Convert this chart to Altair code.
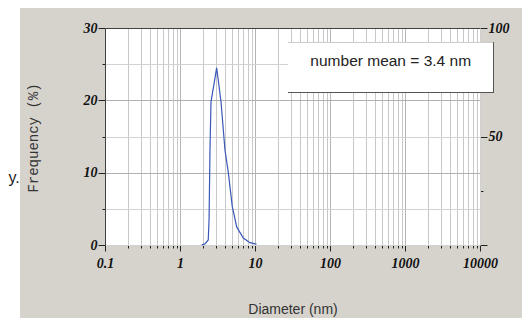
import altair as alt
import pandas as pd

# ---- data ----
diameter_nm = [1.94, 2.15, 2.38, 2.44, 2.51, 2.59, 2.80, 3.08, 3.30, 3.52,
               3.98, 4.41, 4.98, 5.70, 6.98, 8.58, 10.5]
frequency_pct = [0.0, 0.15, 0.7, 3.5, 13.0, 19.8, 21.9, 24.5, 22.1, 19.8,
                 13.1, 10.0, 5.3, 2.5, 0.97, 0.32, 0.1]

x_ticks = [0.1, 0.2, 0.3, 0.4, 0.5, 0.6, 0.7, 0.8, 0.9,
           1, 2, 3, 4, 5, 6, 7, 8, 9,
           10, 20, 30, 40, 50, 60, 70, 80, 90,
           100, 200, 300, 400, 500, 600, 700, 800, 900,
           1000, 2000, 3000, 4000, 5000, 6000, 7000, 8000, 9000, 10000]
x_labels = [0.1, 1, 10, 100, 1000, 10000]
y_ticks = [0, 5, 10, 15, 20, 25, 30]
y_labels = [0, 10, 20, 30]
right_ticks = [0, 25, 50, 75, 100]
right_labels = [50, 100]
right_range = [0, 100]
x_range = [0.1, 10000]
mean_text = "number mean = 3.4 nm"
y_title = "Frequency (%)"
x_title = "Diameter (nm)"

BG = "#d6d3cd"
LBL_FONT = "Liberation Serif"


def in_list(vals):
    return "indexof([" + ",".join(str(v) for v in vals) + "], datum.value) >= 0"


df = pd.DataFrame({"d": diameter_nm, "f": frequency_pct})
df_r = pd.DataFrame({"d": x_range, "p": right_range})
one = pd.DataFrame({"k": [0]})

x_scale = alt.Scale(type="log", domain=[0.1, 10000], nice=False)

curve = alt.Chart(df).mark_line(color="#3a58b8", strokeWidth=1.2).encode(
    x=alt.X("d:Q", scale=x_scale, axis=alt.Axis(
        orient="bottom", values=x_ticks,
        labelExpr=f"{in_list(x_labels)} ? datum.value : ''",
        labelFont=LBL_FONT, labelFontSize=14, labelFontWeight="bold",
        labelFontStyle="italic", labelColor="#111", labelPadding=5,
        labelFlush=False, labelOverlap=False,
        tickColor="#222", tickSize={"expr": f"{in_list(x_labels)} ? 6 : 3"},
        domainColor="#d0d0d0",
        grid=True, gridColor={"expr": f"{in_list(x_labels)} ? '#b4b4b4' : '#c8c8c8'"},
        title=x_title, titleFont="Liberation Sans", titleFontSize=14,
        titleFontWeight="normal", titleColor="#333",
        titleX=187.5, titleY=64, titleBaseline="middle")),
    y=alt.Y("f:Q", scale=alt.Scale(domain=[0, 30], nice=False), axis=alt.Axis(
        orient="left", values=y_ticks,
        labelExpr=f"{in_list(y_labels)} ? datum.value : ''",
        labelFont=LBL_FONT, labelFontSize=14, labelFontWeight="bold",
        labelFontStyle="italic", labelColor="#111", labelPadding=1,
        labelFlush=False, labelOverlap=False,
        tickColor="#222", tickSize={"expr": f"{in_list(y_labels)} ? 7 : 3"},
        domainColor="#404040",
        grid=True, gridColor={"expr": f"{in_list(y_labels)} ? '#b0b0b0' : '#d2d2d2'"},
        title=y_title, titleFont="Liberation Mono", titleFontSize=14,
        titleFontWeight="normal", titleColor="#333", titleAngle=270,
        titleX=-72, titleY=109.5, titleBaseline="middle", titleAlign="center")),
)

right = alt.Chart(df_r).mark_point(opacity=0).encode(
    x=alt.X("d:Q", scale=x_scale, axis=alt.Axis(
        orient="top", labels=False, ticks=False, grid=False,
        domainColor="#404040", title=None)),
    y=alt.Y("p:Q", scale=alt.Scale(domain=[0, 100], nice=False), axis=alt.Axis(
        orient="right", values=right_ticks,
        labelExpr=f"{in_list(right_labels)} ? datum.value : ''",
        labelFont=LBL_FONT, labelFontSize=14, labelFontWeight="bold",
        labelFontStyle="italic", labelColor="#111", labelPadding=1,
        labelFlush=False, labelOverlap=False,
        tickColor="#222", tickSize={"expr": f"{in_list([0, 50, 100])} ? 7 : 3"},
        domainColor="#d0d0d0", grid=False, title=None)),
)

box = alt.Chart(one).mark_rect(fill="white").encode(
    x=alt.value(183), x2=alt.value(388), y=alt.value(14), y2=alt.value(64))
box_top = alt.Chart(one).mark_rule(color="#cccccc").encode(
    x=alt.value(183), x2=alt.value(388), y=alt.value(14.5))
box_right = alt.Chart(one).mark_rule(color="#555555").encode(
    x=alt.value(388.5), y=alt.value(14), y2=alt.value(65))
box_bottom = alt.Chart(one).mark_rule(color="#555555").encode(
    x=alt.value(183), x2=alt.value(389), y=alt.value(64.5))
box_text = alt.Chart(one).mark_text(
    text=mean_text, font="Liberation Sans", fontSize=15.5, color="#222",
    align="center", baseline="alphabetic").encode(
    x=alt.value(285.7), y=alt.value(37.7))

strip = alt.Chart(one).mark_rect(fill="white").encode(
    x=alt.value(-98), x2=alt.value(-85), y=alt.value(-21), y2=alt.value(300))
ytxt = alt.Chart(one).mark_text(
    text="y.", font="Liberation Sans", fontSize=16, color="#222",
    align="left", baseline="alphabetic").encode(
    x=alt.value(-96.5), y=alt.value(155))

chart = alt.layer(curve, right, box, box_top, box_right, box_bottom, box_text,
                  strip, ytxt).resolve_scale(y="independent").resolve_axis(
    x="independent", y="independent").properties(
    width=375, height=217, autosize="none",
    padding={"left": 97, "top": 20, "right": 42, "bottom": 73},
    background=BG,
).configure_view(fill="white", stroke=None)

chart.save("out.html", embed_options={"renderer": "svg", "actions": False})
